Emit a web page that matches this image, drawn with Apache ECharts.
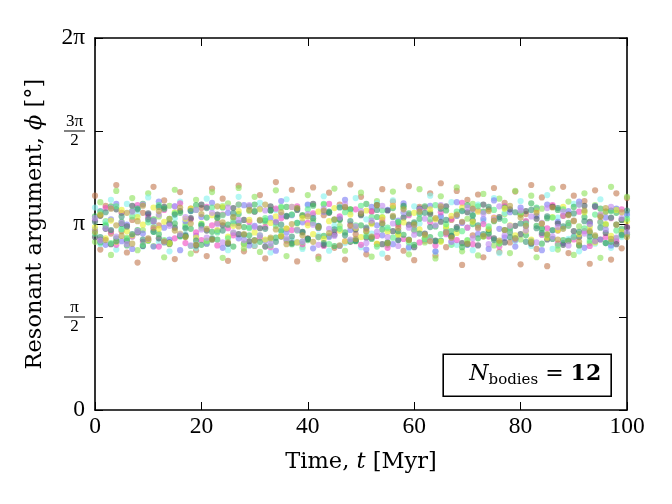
<!DOCTYPE html>
<html>
<head>
<meta charset="utf-8">
<script src="https://cdn.jsdelivr.net/npm/echarts@6/dist/echarts.min.js"></script>
<style>html,body{margin:0;padding:0;background:#fff;}#c{width:672px;height:504px;}</style>
</head>
<body>
<div id="c"></div>
<script>
// Time samples [Myr]
var times = [0,1,2,3,4,5,6,7,8,9,10,11,12,13,14,15,16,17,18,19,20,21,22,23,24,25,26,27,28,29,30,31,32,33,34,35,36,37,38,39,40,41,42,43,44,45,46,47,48,49,50,51,52,53,54,55,56,57,58,59,60,61,62,63,64,65,66,67,68,69,70,71,72,73,74,75,76,77,78,79,80,81,82,83,84,85,86,87,88,89,90,91,92,93,94,95,96,97,98,99,100];

// Resonant argument phi [rad] for each of the 12 bodies
var body1 = [3.62,2.71,3.45,2.98,3.80,3.02,2.66,3.21,2.49,3.33,2.87,3.77,3.12,3.54,2.80,2.55,3.68,2.93,3.40,2.70,3.41,2.60,3.74,3.16,3.57,2.52,3.25,3.79,2.68,3.09,2.77,3.63,2.56,3.38,3.85,2.94,3.06,3.72,2.51,3.28,2.90,3.76,2.59,3.29,3.67,2.74,3.47,2.54,3.81,2.97,3.60,2.63,3.36,2.80,3.73,2.57,3.52,3.14,2.69,3.78,2.53,3.43,2.86,3.66,2.61,3.83,2.75,3.21,3.70,2.45,3.55,2.95,3.64,2.58,3.39,3.75,2.67,3.50,2.83,3.69,2.46,3.31,3.80,2.72,3.59,2.43,3.44,3.03,3.77,2.65,3.62,2.78,3.53,2.47,3.71,2.88,3.35,2.54,3.66,2.73,3.58];
var body2 = [2.84,3.51,3.19,2.62,3.70,3.33,2.91,3.58,2.70,3.04,3.66,2.77,3.27,2.58,3.45,3.72,2.96,3.13,2.64,3.55,3.08,2.81,3.68,3.24,2.57,3.49,2.99,3.75,2.73,3.36,3.60,2.67,3.17,2.89,3.71,3.42,2.60,3.30,3.05,2.75,3.63,3.20,2.55,3.47,2.94,3.74,3.11,2.69,3.39,2.86,3.67,3.01,2.59,3.53,3.26,2.79,3.69,2.97,3.44,2.63,3.15,3.73,2.83,3.34,2.56,3.61,3.07,2.92,3.76,2.68,3.23,3.48,2.61,3.65,3.00,2.78,3.57,3.31,2.65,3.70,2.88,3.18,3.62,2.58,3.40,2.95,3.74,2.71,3.28,3.52,2.62,3.10,3.66,2.82,3.46,2.57,3.35,3.77,2.90,3.21,3.60];
var body3 = [3.42,2.80,3.18,3.55,2.71,3.06,3.48,2.93,3.30,2.76,3.59,3.12,2.84,3.40,2.68,3.24,3.52,2.97,3.36,2.74,3.14,3.57,2.88,3.03,3.45,2.70,3.26,3.60,2.91,3.09,2.78,3.50,3.20,2.66,3.38,3.01,3.56,2.86,3.16,2.72,3.46,3.29,2.95,3.61,2.69,3.11,3.43,2.82,3.34,3.58,2.75,3.22,2.98,3.49,2.64,3.05,3.54,2.87,3.32,2.73,3.44,3.15,2.90,3.62,2.67,3.27,3.00,3.51,2.79,3.37,3.08,2.70,3.47,3.19,2.94,3.58,2.65,3.33,3.02,2.85,3.53,3.17,2.77,3.41,2.96,3.63,2.72,3.25,3.07,2.89,3.48,2.68,3.35,3.13,2.81,3.56,3.04,2.74,3.39,2.92,3.28];
var body4 = [3.05,3.36,2.79,3.22,3.48,2.85,3.13,2.72,3.41,2.98,3.30,2.76,3.52,3.08,2.88,3.44,2.70,3.19,3.37,2.94,3.26,2.81,3.50,3.02,2.74,3.33,3.15,2.90,3.46,2.78,3.11,3.40,2.86,3.24,2.69,3.53,3.00,3.29,2.83,3.17,3.47,2.73,3.07,3.35,2.92,3.21,2.77,3.55,3.04,2.87,3.31,2.71,3.43,3.12,2.95,3.38,2.80,3.20,3.49,2.75,3.09,3.32,2.89,3.45,2.68,3.27,3.01,2.84,3.51,3.16,2.79,3.39,2.97,3.23,2.72,3.54,3.06,2.91,3.34,2.76,3.42,3.10,2.86,3.28,2.70,3.47,3.03,3.18,2.82,3.36,2.93,3.52,2.74,3.14,3.44,2.88,3.25,2.78,3.40,3.00,3.31];
var body5 = [3.20,2.88,3.41,3.02,2.79,3.33,3.10,2.93,3.46,2.84,3.26,3.05,2.76,3.38,3.15,2.90,3.49,2.82,3.22,3.00,2.87,3.43,3.12,2.78,3.30,3.07,2.95,3.47,2.81,3.18,3.36,2.91,3.09,2.75,3.40,3.24,2.86,3.04,3.44,2.80,3.16,3.32,2.92,2.77,3.48,3.01,3.27,2.85,3.13,3.39,2.79,3.06,3.35,2.94,3.21,2.74,3.45,3.11,2.89,3.29,3.03,2.83,3.42,3.17,2.78,3.34,2.97,3.23,2.87,3.50,3.08,2.80,3.37,3.14,2.93,3.25,2.76,3.44,3.00,2.90,3.31,3.19,2.84,3.40,2.96,3.07,3.46,2.81,3.28,3.12,2.88,3.35,3.02,2.77,3.43,3.18,2.92,3.24,2.85,3.39,3.09];
var body6 = [2.92,3.28,3.06,2.80,3.39,3.14,2.86,3.45,3.00,2.77,3.32,3.19,2.90,3.43,2.83,3.08,3.36,2.95,3.24,2.78,3.47,3.03,2.88,3.30,3.12,2.81,3.41,2.97,3.21,2.85,3.35,3.07,2.76,3.44,3.17,2.93,3.27,2.82,3.38,3.01,2.89,3.48,3.10,2.79,3.33,2.96,3.22,3.42,2.84,3.05,3.29,2.91,3.16,3.46,2.80,3.37,3.02,2.87,3.25,3.13,2.75,3.40,2.98,3.31,2.86,3.18,3.44,2.94,3.09,2.82,3.34,3.20,2.78,3.47,3.04,2.90,3.26,2.83,3.39,3.11,2.97,3.36,2.81,3.23,3.07,2.88,3.43,3.15,2.79,3.30,3.02,2.92,3.45,3.18,2.85,3.28,2.99,3.37,2.80,3.21,3.08];
var body7 = [3.27,2.83,3.11,3.44,2.90,3.18,2.78,3.36,3.04,3.48,2.86,3.22,2.97,3.40,2.81,3.15,3.33,2.93,3.06,3.46,2.79,3.25,3.01,2.88,3.42,3.13,2.76,3.31,3.09,2.95,3.47,2.84,3.20,3.37,2.91,3.03,3.43,2.80,3.16,3.29,2.87,3.45,3.08,2.94,3.34,2.77,3.21,3.00,3.39,2.85,3.12,3.48,2.89,3.26,3.05,2.82,3.41,3.17,2.96,3.32,2.79,3.23,3.44,2.92,3.10,2.86,3.37,3.02,3.28,2.75,3.46,3.14,2.90,3.35,2.98,3.19,2.83,3.42,3.07,2.88,3.30,2.95,3.49,3.11,2.81,3.24,3.04,3.38,2.87,3.16,3.43,2.78,3.26,3.00,2.93,3.40,3.13,2.84,3.33,3.06,2.97];
var body8 = [3.09,3.31,2.90,3.20,2.84,3.38,3.02,2.95,3.26,3.13,2.87,3.42,3.06,3.18,2.82,3.34,2.98,3.23,3.40,2.91,3.15,2.86,3.29,3.04,3.44,2.93,3.11,3.36,2.80,3.21,3.00,3.39,2.88,3.16,3.27,2.94,3.07,3.43,2.83,3.24,3.12,2.97,3.35,2.89,3.19,3.41,3.03,2.85,3.30,3.08,2.92,3.37,3.14,2.81,3.25,3.01,3.45,2.96,3.17,2.87,3.33,3.05,2.90,3.39,3.22,2.84,3.10,3.28,2.99,3.42,2.86,3.18,3.35,2.93,3.06,3.24,2.82,3.40,3.12,2.95,3.31,3.02,2.88,3.37,3.15,2.91,3.26,3.04,3.43,2.85,3.20,2.97,3.34,3.09,2.83,3.29,3.14,2.94,3.38,3.01,3.19];
var body9 = [2.98,3.35,3.13,2.82,3.44,3.05,2.89,3.27,3.40,2.79,3.17,3.01,3.46,2.87,3.23,3.32,2.93,3.09,2.77,3.38,3.14,2.85,3.42,3.00,3.29,2.90,3.19,3.47,2.81,3.07,3.36,2.95,3.24,2.78,3.11,3.43,2.88,3.30,3.03,2.84,3.39,3.16,2.92,3.48,2.80,3.21,3.06,3.34,2.86,3.12,3.45,2.94,3.26,2.76,3.37,3.08,2.91,3.18,3.41,2.83,3.04,3.31,2.89,3.22,3.46,2.97,3.14,2.79,3.35,3.02,2.87,3.28,3.44,2.93,3.10,3.38,2.81,3.20,3.00,2.90,3.33,3.15,2.84,3.42,3.05,2.96,3.25,2.78,3.39,3.11,2.92,3.47,3.07,2.86,3.30,3.17,2.82,3.36,3.03,2.95,3.23];
var body10 = [3.18,2.92,3.34,3.04,2.85,3.27,3.10,2.97,3.39,2.88,3.22,3.01,3.43,2.83,3.15,3.30,2.94,3.07,3.36,2.86,3.12,3.41,2.90,3.25,3.03,2.81,3.32,3.16,2.96,3.44,2.87,3.20,3.06,3.37,2.84,3.13,3.28,2.93,3.40,3.00,2.89,3.24,3.11,2.82,3.35,3.05,3.42,2.95,3.19,2.86,3.31,3.08,2.91,3.38,3.14,2.83,3.26,3.02,3.45,2.88,3.17,2.98,3.33,3.09,2.85,3.40,3.21,2.94,3.06,3.36,2.80,3.29,3.12,2.97,3.43,2.87,3.23,3.04,2.92,3.34,3.15,2.84,3.38,3.07,2.99,3.27,2.89,3.41,3.10,2.86,3.32,3.01,3.19,2.93,3.44,3.08,2.82,3.25,3.13,2.96,3.37];
var body11 = [3.24,2.86,3.07,3.41,2.93,3.16,2.80,3.35,3.02,3.47,2.89,3.19,3.30,2.84,3.11,3.44,2.97,3.26,2.78,3.38,3.05,2.91,3.33,3.14,2.83,3.42,3.00,3.21,2.87,3.46,3.09,2.95,3.37,2.81,3.18,3.29,2.90,3.43,3.04,2.85,3.31,3.13,2.79,3.40,3.06,2.94,3.25,3.48,2.88,3.10,3.36,2.82,3.20,3.01,3.45,2.92,3.15,2.77,3.34,3.08,2.96,3.39,3.23,2.86,3.12,3.46,2.99,2.84,3.28,3.17,3.42,2.90,3.06,3.32,2.80,3.22,3.44,2.95,3.11,2.87,3.37,3.03,3.27,2.83,3.16,3.41,2.93,3.09,3.35,2.78,3.20,3.47,2.98,3.14,2.85,3.30,3.05,3.43,2.91,3.24,3.00];
var body12 = [3.01,3.29,2.87,3.40,3.12,2.94,3.33,2.81,3.19,3.45,2.90,3.08,3.36,2.85,3.23,3.03,3.42,2.92,3.15,2.79,3.31,3.06,2.88,3.44,3.17,2.83,3.26,3.10,2.97,3.38,2.86,3.21,3.47,2.91,3.05,3.34,2.80,3.14,3.41,2.95,3.27,2.84,3.09,3.37,2.99,3.22,2.78,3.43,3.11,2.89,3.32,3.02,2.93,3.46,3.16,2.82,3.28,3.07,3.39,2.87,3.13,3.35,2.96,2.85,3.24,3.44,3.00,2.91,3.30,3.18,2.81,3.40,3.08,2.94,3.36,3.20,2.86,3.04,3.45,2.90,3.25,3.11,2.83,3.33,3.15,2.97,3.42,2.88,3.06,3.29,3.19,2.84,3.37,3.02,2.95,3.26,3.41,2.89,3.13,3.34,2.92];

var bodies = [body1, body2, body3, body4, body5, body6, body7, body8, body9, body10, body11, body12];
var bodyColors = ['#c47a52','#8ee25c','#84f2ee','#7c7cf4','#f04cc4','#46585e','#3cbc5e','#e8f030','#5aec84','#3a9678','#c08af0','#b8a040'];

// y tick labels at 0, pi/2, pi, 3pi/2, 2pi
var yTickLabels = ['0', '{n|π}\n{bar|}\n{n|2}', 'π', '{n|3π}\n{bar|}\n{n|2}', '2π'];

var TICKFONT = '"Liberation Serif", "DejaVu Serif", serif';
var TITLEFONT = '"DejaVu Serif", "Liberation Serif", serif';

var series = bodies.map(function (vals, k) {
  var data = [];
  var n = Math.min(vals.length, times.length);
  for (var i = 0; i < n; i++) data.push([times[i], vals[i]]);
  return {
    type: 'scatter',
    name: 'Body ' + (k + 1),
    data: data,
    symbol: 'circle',
    symbolSize: 6.2,
    silent: true,
    itemStyle: { color: bodyColors[k], opacity: 0.62, borderWidth: 0 },
    xAxisIndex: 0,
    yAxisIndex: 0
  };
});

var chart = echarts.init(document.getElementById('c'), null, { renderer: 'canvas' });
var axisLineStyle = { color: '#000', width: 1.6 };
var tickStyle = { show: true, inside: true, length: 8, lineStyle: { color: '#000', width: 1 } };

chart.setOption({
  animation: false,
  backgroundColor: '#fff',
  grid: { left: 95, right: 45, top: 38, bottom: 94, containLabel: false },
  xAxis: [{
    type: 'value', min: 0, max: 100, interval: 20, position: 'bottom',
    axisLine: { show: true, onZero: false, lineStyle: axisLineStyle },
    axisTick: tickStyle,
    splitLine: { show: false },
    axisLabel: { color: '#000', fontFamily: TICKFONT, fontSize: 23.5, margin: 5 },
    name: 'Time, {i|t} [Myr]',
    nameLocation: 'middle', nameGap: 41,
    nameTextStyle: { color: '#000', fontFamily: TITLEFONT, fontSize: 22.5,
      rich: { i: { fontStyle: 'italic', fontFamily: TITLEFONT, fontSize: 22.5, color: '#000' } } }
  }, {
    type: 'value', min: 0, max: 100, interval: 20, position: 'top',
    axisLine: { show: true, onZero: false, lineStyle: axisLineStyle },
    axisTick: tickStyle,
    splitLine: { show: false },
    axisLabel: { show: false }
  }],
  yAxis: [{
    type: 'value', min: 0, max: 2 * Math.PI, interval: Math.PI / 2, position: 'left',
    axisLine: { show: true, onZero: false, lineStyle: axisLineStyle },
    axisTick: tickStyle,
    splitLine: { show: false },
    axisLabel: {
      color: '#000', fontFamily: TICKFONT, fontSize: 23.5, margin: 10, align: 'right',
      formatter: function (v) { return yTickLabels[Math.round(v / (Math.PI / 2))]; },
      rich: {
        n: { fontFamily: TICKFONT, fontSize: 17, color: '#000', lineHeight: 13, align: 'center' },
        bar: { width: 21, height: 1, backgroundColor: '#000', lineHeight: 6, align: 'center' }
      }
    },
    name: 'Resonant argument, {i|ϕ} [°]',
    nameLocation: 'middle', nameGap: 48, nameRotate: 90,
    nameTextStyle: { color: '#000', fontFamily: TITLEFONT, fontSize: 22.5,
      rich: { i: { fontStyle: 'italic', fontFamily: TITLEFONT, fontSize: 22.5, color: '#000' } } }
  }, {
    type: 'value', min: 0, max: 2 * Math.PI, interval: Math.PI / 2, position: 'right',
    axisLine: { show: true, onZero: false, lineStyle: axisLineStyle },
    axisTick: tickStyle,
    splitLine: { show: false },
    axisLabel: { show: false }
  }],
  series: series,
  graphic: [{
    type: 'group', right: 60, bottom: 107,
    children: [{
      type: 'rect', shape: { x: 0, y: 0, width: 168, height: 42 },
      style: { fill: '#fff', stroke: '#000', lineWidth: 1.6 }
    }, {
      type: 'text', x: 158, y: 20,
      style: {
        text: '{n|N}{s|bodies}{e| = }{b|12}',
        align: 'right', verticalAlign: 'middle',
        rich: {
          n: { fontFamily: TITLEFONT, fontStyle: 'italic', fontSize: 22, lineHeight: 26, fill: '#000' },
          s: { fontFamily: TITLEFONT, fontSize: 15, lineHeight: 14, verticalAlign: 'bottom', fill: '#000' },
          e: { fontFamily: TITLEFONT, fontSize: 22, lineHeight: 26, fill: '#000' },
          b: { fontFamily: TITLEFONT, fontSize: 22, fontWeight: 'bold', lineHeight: 26, fill: '#000' }
        }
      }
    }]
  }]
});
</script>
</body>
</html>
